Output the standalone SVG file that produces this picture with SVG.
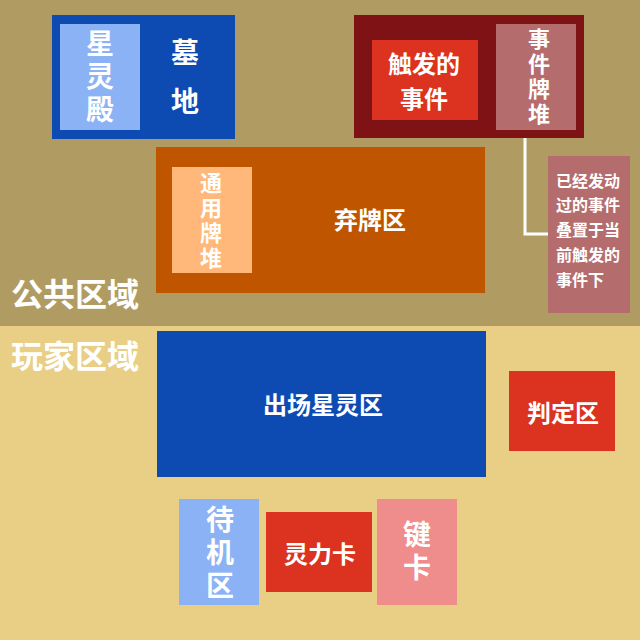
<svg xmlns="http://www.w3.org/2000/svg" width="640" height="640" viewBox="0 0 640 640">
<style>
text{font-family:"Noto Sans CJK SC","Noto Sans",sans-serif;font-weight:bold;fill:#fff;text-anchor:middle;dominant-baseline:central}
.big{font-size:28px}
.mid{font-size:24px}
.vbig{font-size:28px;writing-mode:vertical-rl;letter-spacing:5px}
.vmid{font-size:22px;writing-mode:vertical-rl;letter-spacing:3px}
.note{font-size:16px;text-anchor:start}
.area{font-size:32px;text-anchor:start}
</style>
<rect x="0" y="0" width="640" height="326" fill="#B09C63"/>
<rect x="0" y="326" width="640" height="314" fill="#E8CF85"/>
<text class="area" x="11" y="292">公共区域</text>
<text class="area" x="11" y="354">玩家区域</text>
<g id="graveyard">
<rect x="52" y="15" width="183" height="124" fill="#0D4BB3"/>
<text class="big" x="185" y="51">墓</text>
<text class="big" x="185" y="100">地</text>
</g>
<g id="starhall">
<rect x="60" y="24" width="80" height="106" fill="#8AB2F5"/>
<text class="vbig" x="100" y="79">星灵殿</text>
</g>
<g id="event-zone">
<rect x="354" y="15" width="230" height="123" fill="#7F1214"/>
</g>
<g id="triggered-event">
<rect x="372" y="40" width="106" height="80" fill="#DC3220"/>
<text class="mid" x="424" y="62">触发的</text>
<text class="mid" x="424" y="97">事件</text>
</g>
<g id="event-deck">
<rect x="496" y="24" width="80" height="106" fill="#B56C6C"/>
<text class="vmid" x="539" y="78">事件牌堆</text>
</g>
<g id="discard">
<rect x="156" y="147" width="329" height="146" fill="#C05500"/>
<text class="mid" x="370" y="218">弃牌区</text>
</g>
<g id="common-deck">
<rect x="172" y="167" width="80" height="106" fill="#FFB87A"/>
<text class="vmid" x="211" y="222">通用牌堆</text>
</g>
<g id="note">
<rect x="548" y="156" width="82" height="157" fill="#B56C6C"/>
<text class="note" x="556" y="180">已经发动</text>
<text class="note" x="556" y="204">过的事件</text>
<text class="note" x="556" y="229">叠置于当</text>
<text class="note" x="556" y="254">前触发的</text>
<text class="note" x="556" y="279">事件下</text>
</g>
<g id="connectors">
<polyline points="525,138 525,234 548,234" fill="none" stroke="#fff" stroke-width="3"/>
</g>
<g id="field">
<rect x="157" y="331" width="329" height="146" fill="#0D4BB3"/>
<text class="mid" x="323" y="403">出场星灵区</text>
</g>
<g id="judge">
<rect x="509" y="371" width="106" height="80" fill="#DC3220"/>
<text class="mid" x="563" y="411">判定区</text>
</g>
<g id="standby">
<rect x="179" y="499" width="80" height="106" fill="#8AB2F5"/>
<text class="vbig" x="220" y="555">待机区</text>
</g>
<g id="power-card">
<rect x="266" y="512" width="106" height="80" fill="#DC3220"/>
<text class="mid" x="320" y="552">灵力卡</text>
</g>
<g id="key-card">
<rect x="377" y="499" width="80" height="106" fill="#EF8C8C"/>
<text class="vbig" x="417" y="553">键卡</text>
</g>
</svg>
